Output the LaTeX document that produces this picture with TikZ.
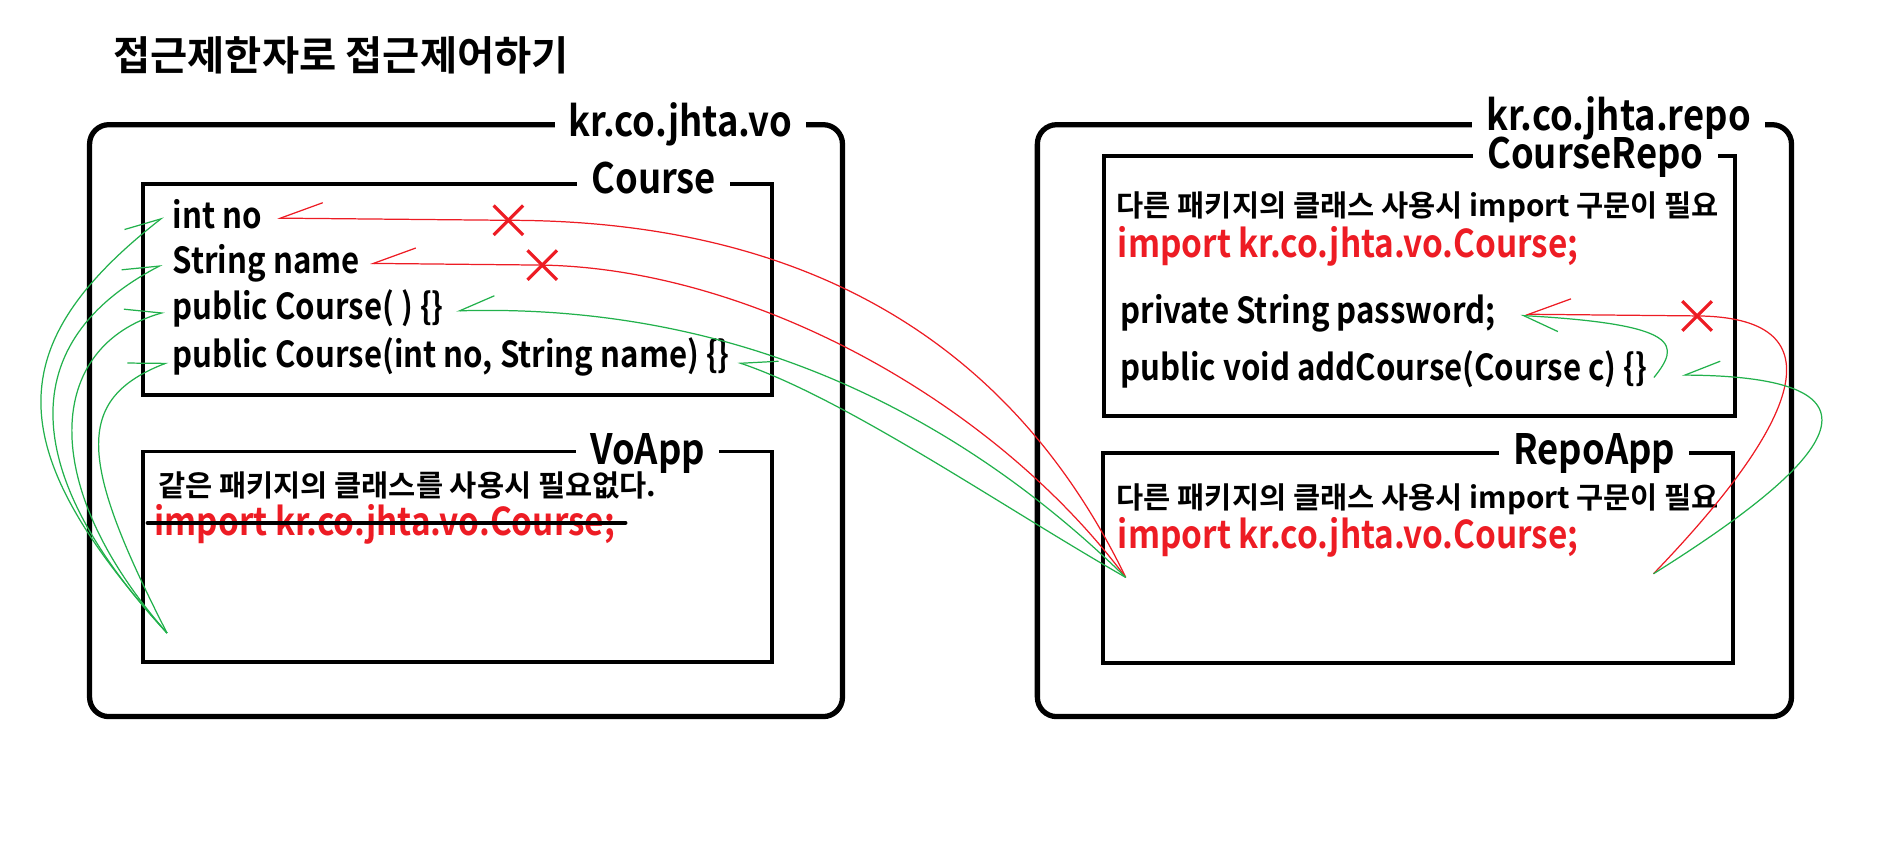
\documentclass[tikz,border=0pt]{standalone}
\usepackage{fontspec}
\setmainfont{Noto Sans CJK KR Bold}
\newfontfamily\narrowfont{Noto Sans CJK KR Bold}[FakeStretch=0.87]
\usetikzlibrary{arrows.meta,shapes.misc}
\definecolor{paintred}{RGB}{237,28,36}
\definecolor{paintgreen}{RGB}{34,177,76}

\begin{document}
\begin{tikzpicture}[x=0.0121cm, y=-0.0121cm,
        pkg/.style={line width=1.5pt, rounded corners=5.5pt},
        cls/.style={line width=1.1pt},
        tag/.style={fill=white, inner xsep=4pt, inner ysep=0pt, text depth=0pt, anchor=base, font=\narrowfont\fontsize{11.9}{13}\selectfont},
        member/.style={inner sep=0pt, anchor=base west, font=\narrowfont\fontsize{10.2}{12}\selectfont},
        note/.style={inner sep=0pt, anchor=base west, font=\fontsize{8.4}{10}\selectfont},
        imp/.style={inner sep=0pt, anchor=base west, text=paintred, font=\narrowfont\fontsize{10.9}{12}\selectfont},
        nope/.style={cross out, draw=paintred, line width=0.9pt, minimum size=7.5pt, inner sep=0pt},
        denied/.style={paintred, line width=0.35pt, -{Straight Barb[right, length=12pt, width=9pt]}},
        allowed/.style={paintgreen, line width=0.35pt, -{Straight Barb[right, length=10pt, width=8pt]}},
        allowedl/.style={paintgreen, line width=0.35pt, -{Straight Barb[left, length=10pt, width=8pt]}}]
        \useasboundingbox (0,0) rectangle (1568,694);
        %\draw[gray!30] (0,0) grid[step=50] (1568,694);

        \node[inner sep=0pt, anchor=base west, font=\fontsize{11.5}{13}\selectfont] (title) at (93,58) {접근제한자로 접근제어하기};

        \draw[pkg] (74,103) rectangle (696,592);
        \draw[pkg] (857,103) rectangle (1480,592);

        \draw[cls] (118,152) rectangle (638,326);
        \draw[cls] (118,373) rectangle (638,547);
        \draw[cls] (912,129) rectangle (1433,344);
        \draw[cls] (911,374) rectangle (1432,548);

        \node[tag] (course) at (540,160) {Course};
        \node[tag] (voapp) at (535,384) {VoApp};
        \node[tag] (courserepo) at (1318,139) {CourseRepo};
        \node[tag] (repoapp) at (1317,384) {RepoApp};
        \node[tag] (vopkg) at (562,113) {kr.co.jhta.vo};
        \node[tag] (repopkg) at (1337,108) {kr.co.jhta.repo};

        \node[member] (intno) at (142,189) {int no};
        \node[member] (name) at (142,226) {String name};
        \node[member] (ctor) at (142,264) {public Course( ) \{\}};
        \node[member] (ctorfull) at (142,304) {public Course(int no, String name) \{\}};

        \node[note] (samepkg) at (130,410) {같은 패키지의 클래스를 사용시 필요없다.};
        \node[imp] (voimport) at (127,442) {import kr.co.jhta.vo.Course;};
        \draw[line width=1.2pt, line cap=round] ([shift={(-5,-10)}]voimport.base west) -- ([shift={(8,-10)}]voimport.base east);

        \node[note] (otherpkg) at (922,179) {다른 패키지의 클래스 사용시 import 구문이 필요};
        \node[imp] (repoimport) at (923,213) {import kr.co.jhta.vo.Course;};
        \node[member] (password) at (925,267) {private String password;};
        \node[member] (addcourse) at (925,314) {public void addCourse(Course c) \{\}};

        \node[note] (otherpkgapp) at (922,420) {다른 패키지의 클래스 사용시 import 구문이 필요};
        \node[imp] (appimport) at (923,453) {import kr.co.jhta.vo.Course;};

        \coordinate (vouse) at (138,523);
        \coordinate (repouse) at (930,477);
        \coordinate (appuse) at (1366,474);

        \node[nope] (x1) at (420,182) {};
        \node[nope] (x2) at (448,219) {};
        \node[nope] (x3) at (1402,261) {};

        % same package
        \draw[allowedl] (vouse) .. controls (0,370) and (0,285) .. ([shift={(-7,2)}]intno.west);
        \draw[allowedl] (vouse) .. controls (15,390) and (12,282) .. ([shift={(-8,1)}]name.west);
        \draw[allowedl] (vouse) .. controls (30,400) and (38,286) .. ([shift={(-6,3)}]ctor.west);
        \draw[allowedl] (vouse) .. controls (66,382) and (60,330) .. ([shift={(-3,4)}]ctorfull.west);

        % other package
        \draw[denied] (repouse) .. controls (830,270) and (650,182) .. (x1.center) -- ([shift={(12,3)}]intno.east);
        \draw[denied] (repouse) .. controls (820,330) and (620,222) .. (x2.center) -- ([shift={(8,0)}]name.east);
        \draw[allowed] (repouse) .. controls (800,350) and (620,250) .. ([shift={(10,2)}]ctor.east);
        \draw[allowed] (repouse) .. controls (830,420) and (700,330) .. ([shift={(6,4)}]ctorfull.east);

        \draw[denied] (appuse) .. controls (1495,340) and (1515,262) .. (x3.center) -- ([shift={(24,1)}]password.east);
        \draw[allowedl] ([shift={(5,7)}]addcourse.east) .. controls (1388,285) and (1390,268) .. ([shift={(20,2)}]password.east);
        \draw[allowed] (appuse) .. controls (1500,390) and (1585,311) .. ([shift={(28,5)}]addcourse.east);
    \end{tikzpicture}
\end{document}
